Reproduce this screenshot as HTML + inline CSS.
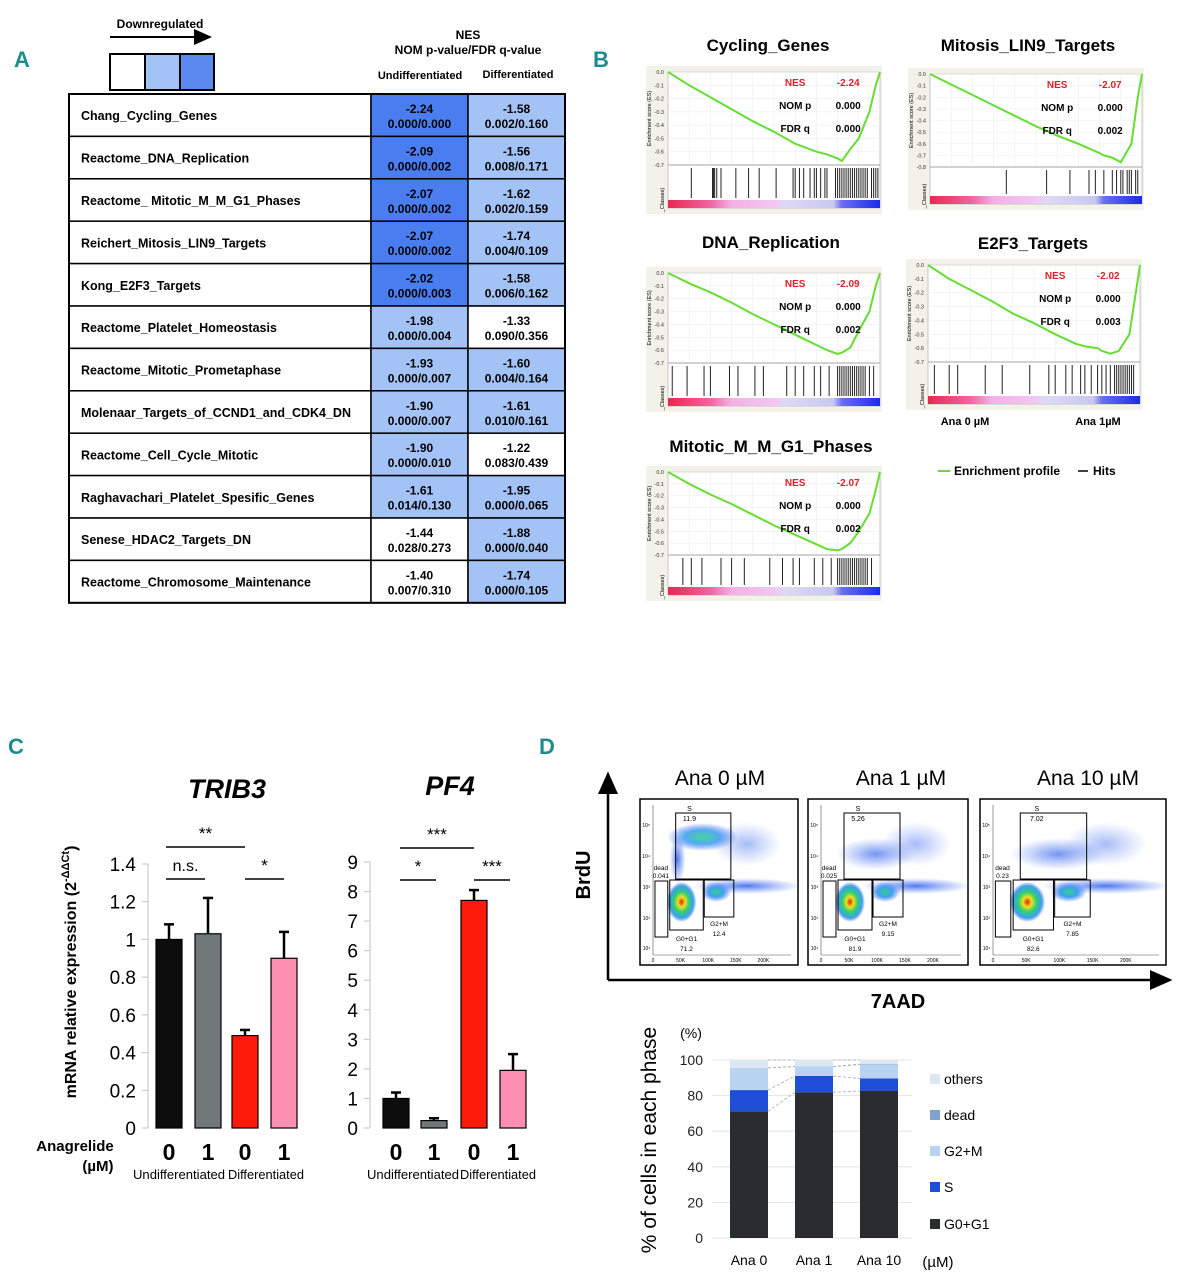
<!DOCTYPE html>
<html><head><meta charset="utf-8"><style>
body{margin:0;background:#fff}
svg{display:block;font-family:"Liberation Sans",Arial,sans-serif}
</style></head><body>
<svg id="fig" width="1187" height="1280" viewBox="0 0 1187 1280" xmlns="http://www.w3.org/2000/svg">
<defs>
<linearGradient id="rankbar" x1="0" x2="1" y1="0" y2="0">
<stop offset="0" stop-color="#e8284f"/><stop offset="0.2" stop-color="#f065a0"/><stop offset="0.3" stop-color="#f4b0e6"/><stop offset="0.5" stop-color="#f2c6f2"/><stop offset="0.55" stop-color="#ddd9f5"/><stop offset="0.78" stop-color="#c8c8f0"/><stop offset="0.82" stop-color="#6a6ef0"/><stop offset="1" stop-color="#1c2ce6"/>
</linearGradient>
<radialGradient id="blobG"><stop offset="0" stop-color="#e02010"/><stop offset="0.25" stop-color="#f0e020"/><stop offset="0.5" stop-color="#30d070"/><stop offset="0.8" stop-color="#3aa0f0"/><stop offset="1" stop-color="#4a70f0" stop-opacity="0"/></radialGradient>
<radialGradient id="blobC"><stop offset="0" stop-color="#30d090"/><stop offset="0.5" stop-color="#40a0f0"/><stop offset="1" stop-color="#5070f0" stop-opacity="0"/></radialGradient>
<radialGradient id="blobB"><stop offset="0" stop-color="#3a6af0" stop-opacity="0.9"/><stop offset="1" stop-color="#5a80f0" stop-opacity="0"/></radialGradient>
<marker id="arr" markerWidth="10" markerHeight="10" refX="8" refY="5" orient="auto"><path d="M0,1 L9,5 L0,9 z" fill="#000"/></marker>
</defs>

<text x="14" y="67" font-size="22" font-weight="bold" fill="#1e8c8c">A</text>
<text x="593" y="67" font-size="22" font-weight="bold" fill="#1e8c8c">B</text>
<text x="8" y="754" font-size="22" font-weight="bold" fill="#1e8c8c">C</text>
<text x="539" y="754" font-size="22" font-weight="bold" fill="#1e8c8c">D</text>

<g>
<text x="160" y="28" font-size="12" font-weight="bold" text-anchor="middle">Downregulated</text>
<line x1="110" y1="37" x2="210" y2="37" stroke="#000" stroke-width="2" marker-end="url(#arr)"/>
<rect x="110" y="54" width="35" height="36" fill="#fff" stroke="#000" stroke-width="2"/>
<rect x="145" y="54" width="35" height="36" fill="#a3c2f5" stroke="#000" stroke-width="2"/>
<rect x="180" y="54" width="34" height="36" fill="#5a8af0" stroke="#000" stroke-width="2"/>
</g>
<text x="468" y="39" font-size="12" font-weight="bold" text-anchor="middle">NES</text>
<text x="468" y="54" font-size="12" font-weight="bold" text-anchor="middle">NOM p-value/FDR q-value</text>
<text x="420" y="79" font-size="11" font-weight="bold" text-anchor="middle">Undifferentiated</text>
<text x="518" y="78" font-size="11" font-weight="bold" text-anchor="middle">Differentiated</text>
<g id="tableA"></g>

<g id="gseaB"></g>
<g>
<line x1="938" y1="471" x2="950" y2="471" stroke="#66dd33" stroke-width="2"/>
<text x="954" y="475" font-size="12" font-weight="bold">Enrichment profile</text>
<line x1="1078" y1="471" x2="1088" y2="471" stroke="#000" stroke-width="1.5"/>
<text x="1093" y="475" font-size="12" font-weight="bold">Hits</text>
</g>
<text x="965" y="425" font-size="11" font-weight="bold" text-anchor="middle">Ana 0 µM</text>
<text x="1098" y="425" font-size="11" font-weight="bold" text-anchor="middle">Ana 1µM</text>

<g id="panelC"></g>
<text transform="translate(76,972) rotate(-90)" font-size="16" font-weight="bold" text-anchor="middle">mRNA relative expression (2<tspan font-size="11" dy="-7">-ΔΔCt</tspan><tspan dy="7">)</tspan></text>
<text x="75" y="1151" font-size="15" font-weight="bold" text-anchor="middle">Anagrelide</text>
<text x="98" y="1171" font-size="15" font-weight="bold" text-anchor="middle">(µM)</text>

<g>
<line x1="608" y1="980" x2="608" y2="774" stroke="#000" stroke-width="2.5" marker-end="url(#arr)"/>
<line x1="608" y1="980" x2="1170" y2="980" stroke="#000" stroke-width="2.5" marker-end="url(#arr)"/>
<text transform="translate(590,875) rotate(-90)" font-size="20" font-weight="bold" text-anchor="middle">BrdU</text>
<text x="898" y="1008" font-size="20" font-weight="bold" text-anchor="middle">7AAD</text>
</g>
<g id="flowD"></g>
<g id="stackD"></g>
</svg>

<script>
var NS="http://www.w3.org/2000/svg";
function mk(tag,attrs,parent,txt){var e=document.createElementNS(NS,tag);for(var k in attrs)e.setAttribute(k,attrs[k]);if(txt!==undefined)e.textContent=txt;parent.appendChild(e);return e;}

/* ---------- Panel A table data ---------- */
var geneSets=["Chang_Cycling_Genes","Reactome_DNA_Replication","Reactome_ Mitotic_M_M_G1_Phases","Reichert_Mitosis_LIN9_Targets","Kong_E2F3_Targets","Reactome_Platelet_Homeostasis","Reactome_Mitotic_Prometaphase","Molenaar_Targets_of_CCND1_and_CDK4_DN","Reactome_Cell_Cycle_Mitotic","Raghavachari_Platelet_Spesific_Genes","Senese_HDAC2_Targets_DN","Reactome_Chromosome_Maintenance"];
var nesUndiff=["-2.24","-2.09","-2.07","-2.07","-2.02","-1.98","-1.93","-1.90","-1.90","-1.61","-1.44","-1.40"];
var pqUndiff=["0.000/0.000","0.000/0.002","0.000/0.002","0.000/0.002","0.000/0.003","0.000/0.004","0.000/0.007","0.000/0.007","0.000/0.010","0.014/0.130","0.028/0.273","0.007/0.310"];
var nesDiff=["-1.58","-1.56","-1.62","-1.74","-1.58","-1.33","-1.60","-1.61","-1.22","-1.95","-1.88","-1.74"];
var pqDiff=["0.002/0.160","0.008/0.171","0.002/0.159","0.004/0.109","0.006/0.162","0.090/0.356","0.004/0.164","0.010/0.161","0.083/0.439","0.000/0.065","0.000/0.040","0.000/0.105"];

function cellColor(nes,q){var n=parseFloat(nes),qq=parseFloat(q.split("/")[1]);if(qq>0.25)return "#ffffff";if(n<=-2.0)return "#4a7ef0";return "#a3c2f5";}
(function(){
var g=document.getElementById("tableA");
var top=94,rowH=42.4,x0=69,x1=371,x2=468,x3=565;
for(var i=0;i<geneSets.length;i++){
 var y=top+i*rowH;
 var r=mk("g",{},g);
 
 
 mk("rect",{x:x0,y:y,width:x1-x0,height:rowH,fill:"#fff",stroke:"#000","stroke-width":1.5},r);
 mk("rect",{x:x1,y:y,width:x2-x1,height:rowH,fill:cellColor(nesUndiff[i],pqUndiff[i]),stroke:"#000","stroke-width":1.5},r);
 mk("rect",{x:x2,y:y,width:x3-x2,height:rowH,fill:cellColor(nesDiff[i],pqDiff[i]),stroke:"#000","stroke-width":1.5},r);
 mk("text",{x:x0+12,y:y+rowH/2+5,"font-size":12.5,"font-weight":"bold"},r,geneSets[i]);
 mk("text",{x:(x1+x2)/2,y:y+19,"font-size":12,"font-weight":"bold","text-anchor":"middle"},r,nesUndiff[i]);
 mk("text",{x:(x1+x2)/2,y:y+34,"font-size":12,"font-weight":"bold","text-anchor":"middle"},r,pqUndiff[i]);
 mk("text",{x:(x2+x3)/2,y:y+19,"font-size":12,"font-weight":"bold","text-anchor":"middle"},r,nesDiff[i]);
 mk("text",{x:(x2+x3)/2,y:y+34,"font-size":12,"font-weight":"bold","text-anchor":"middle"},r,pqDiff[i]);
}
mk("rect",{x:x0,y:top,width:x3-x0,height:rowH*12,fill:"none",stroke:"#000","stroke-width":2},g);
})();

/* ---------- Panel B GSEA data ---------- */
var gseaTitles=["Cycling_Genes","Mitosis_LIN9_Targets","DNA_Replication","E2F3_Targets","Mitotic_M_M_G1_Phases"];
var gseaNES=["-2.24","-2.07","-2.09","-2.02","-2.07"];
var gseaNomP=["0.000","0.000","0.000","0.000","0.000"];
var gseaFdr=["0.000","0.002","0.002","0.003","0.002"];
var gseaYMin=[-0.7,-0.8,-0.7,-0.7,-0.7];
var esRanks=[0,0.1,0.2,0.3,0.4,0.5,0.6,0.7,0.75,0.8,0.82,0.86,0.9,0.95,0.98,1];
var esCurve1=[0,-0.1,-0.19,-0.28,-0.37,-0.45,-0.54,-0.6,-0.62,-0.65,-0.67,-0.58,-0.5,-0.3,-0.1,0];
var esCurve2=[0,-0.09,-0.18,-0.27,-0.36,-0.45,-0.53,-0.6,-0.64,-0.68,-0.7,-0.72,-0.76,-0.6,-0.2,0];
var esCurve3=[0,-0.08,-0.15,-0.23,-0.32,-0.4,-0.48,-0.56,-0.6,-0.63,-0.62,-0.58,-0.45,-0.3,-0.1,0];
var esCurve4=[0,-0.1,-0.18,-0.26,-0.35,-0.42,-0.5,-0.57,-0.59,-0.6,-0.62,-0.64,-0.62,-0.5,-0.2,0];
var esCurve5=[0,-0.1,-0.19,-0.27,-0.36,-0.45,-0.53,-0.61,-0.65,-0.66,-0.65,-0.6,-0.5,-0.35,-0.15,0];
var hits1=[0.11,0.21,0.215,0.22,0.23,0.25,0.32,0.38,0.43,0.51,0.59,0.6,0.62,0.64,0.67,0.69,0.7,0.72,0.74,0.75,0.79,0.8,0.81,0.82,0.83,0.84,0.85,0.86,0.87,0.88,0.89,0.9,0.91,0.92,0.93,0.94,0.96,0.97,0.98,0.99];
var hits2=[0.36,0.55,0.66,0.75,0.78,0.82,0.86,0.88,0.9,0.91,0.93,0.94,0.95,0.97,0.98];
var hits3=[0.02,0.09,0.17,0.2,0.29,0.33,0.41,0.45,0.56,0.6,0.64,0.69,0.72,0.76,0.8,0.81,0.82,0.83,0.84,0.85,0.86,0.87,0.88,0.89,0.9,0.91,0.92,0.93,0.95,0.97];
var hits4=[0.03,0.1,0.14,0.27,0.35,0.48,0.57,0.6,0.65,0.68,0.72,0.74,0.77,0.8,0.82,0.84,0.86,0.88,0.89,0.9,0.91,0.92,0.93,0.94,0.95,0.96,0.97];
var hits5=[0.07,0.11,0.16,0.25,0.3,0.36,0.48,0.54,0.59,0.62,0.69,0.73,0.77,0.8,0.81,0.82,0.83,0.84,0.85,0.86,0.87,0.88,0.89,0.9,0.91,0.92,0.93,0.94,0.96];

(function(){
var g=document.getElementById("gseaB");
var curves=[esCurve1,esCurve2,esCurve3,esCurve4,esCurve5];
var hits=[hits1,hits2,hits3,hits4,hits5];
var boxes=[
 {tx:768,ty:51,x:668,w:212,y:72,h:93,hh:35,bh:8},
 {tx:1028,ty:51,x:930,w:212,y:74,h:93,hh:29,bh:8},
 {tx:771,ty:248,x:668,w:212,y:273,h:90,hh:35,bh:8},
 {tx:1033,ty:249,x:928,w:212,y:265,h:97,hh:34,bh:8},
 {tx:771,ty:452,x:668,w:212,y:472,h:83,hh:32,bh:8}];
for(var p=0;p<5;p++){
 var b=boxes[p],c=curves[p],ymin=gseaYMin[p];
 var pg=mk("g",{},g);
 
 
 var t=mk("text",{x:b.tx,y:b.ty,"font-size":17,"font-weight":"bold","text-anchor":"middle"},pg,gseaTitles[p]);
 
 
 mk("rect",{x:b.x-22,y:b.y-6,width:b.w+24,height:b.h+b.hh+b.bh+12,fill:"#f2f2e8"},pg);
 mk("rect",{x:b.x,y:b.y,width:b.w,height:b.h+b.hh+b.bh,fill:"#fff",stroke:"#bbb","stroke-width":0.8},pg);
 var sx=function(r){return b.x+r*b.w;};
 var sy=function(v){return b.y+(v/ymin)*b.h;};
 var nt=Math.round(-ymin*10);
 for(var k=0;k<=nt;k++){var v=-k/10;mk("line",{x1:b.x,x2:b.x+b.w,y1:sy(v),y2:sy(v),stroke:"#eee","stroke-width":0.6},pg);
  mk("text",{x:b.x-4,y:sy(v)+2,"font-size":5.5,"text-anchor":"end",fill:"#333"},pg,v===0?"0.0":v.toFixed(1));}
 for(var k=1;k<10;k++)mk("line",{x1:b.x+k*b.w/10,x2:b.x+k*b.w/10,y1:b.y,y2:b.y+b.h,stroke:"#eee","stroke-width":0.6},pg);
 mk("line",{x1:b.x,x2:b.x+b.w,y1:b.y+b.h,y2:b.y+b.h,stroke:"#888","stroke-width":0.8},pg);
 mk("text",{transform:"translate("+(b.x-17)+","+(b.y+b.h/2)+") rotate(-90)","font-size":5.5,"text-anchor":"middle"},pg,"Enrichment score (ES)");
 mk("text",{transform:"translate("+(b.x-4)+","+(b.y+b.h+b.hh)+") rotate(-90)","font-size":5.5,"text-anchor":"middle"},pg,"_Classes)");
 var d="";for(var i=0;i<esRanks.length;i++)d+=(i?"L":"M")+sx(esRanks[i]).toFixed(1)+","+sy(c[i]).toFixed(1);
 var path=mk("path",{d:d,fill:"none",stroke:"#66dd33","stroke-width":2},pg);
 
 
 var h=hits[p];
 for(var i=0;i<h.length;i++){var hl=mk("line",{x1:sx(h[i]),x2:sx(h[i]),y1:b.y+b.h+3,y2:b.y+b.h+b.hh-2,stroke:"#222","stroke-width":1},pg);
  
  }
 mk("rect",{x:b.x,y:b.y+b.h+b.hh,width:b.w,height:b.bh,fill:"url(#rankbar)"},pg);
 var lx=b.x+b.w*0.6,vx=b.x+b.w*0.85;
 mk("text",{x:lx,y:b.y+14,"font-size":10,"font-weight":"bold",fill:"#e0202a","text-anchor":"middle"},pg,"NES");
 mk("text",{x:vx,y:b.y+14,"font-size":10,"font-weight":"bold",fill:"#e0202a","text-anchor":"middle"},pg,gseaNES[p]);
 mk("text",{x:lx,y:b.y+37,"font-size":10,"font-weight":"bold","text-anchor":"middle"},pg,"NOM p");
 mk("text",{x:vx,y:b.y+37,"font-size":10,"font-weight":"bold","text-anchor":"middle"},pg,gseaNomP[p]);
 mk("text",{x:lx,y:b.y+60,"font-size":10,"font-weight":"bold","text-anchor":"middle"},pg,"FDR q");
 mk("text",{x:vx,y:b.y+60,"font-size":10,"font-weight":"bold","text-anchor":"middle"},pg,gseaFdr[p]);
}
})();

/* ---------- Panel C data ---------- */
var qCats=["0","1","0","1"];
var trib3Vals=[1.0,1.03,0.49,0.9];
var trib3Err=[0.08,0.19,0.03,0.14];
var trib3Ticks=[0,0.2,0.4,0.6,0.8,1,1.2,1.4];
var pf4Vals=[1.0,0.25,7.7,1.95];
var pf4Err=[0.2,0.08,0.35,0.55];
var pf4Ticks=[0,1,2,3,4,5,6,7,8,9];
var barColors=["#0d0d0d","#707878","#ff1a0a","#ff8fb0"];

function qChart(opt){
 var g=document.getElementById("panelC");
 var cg=mk("g",{},g);
 
 
 var max=opt.ticks[opt.ticks.length-1];
 var y=function(v){return opt.y0-(v/max)*(opt.y0-opt.ytop);};
 var tt=mk("text",{x:opt.tx,y:opt.ty,"font-size":27,"font-weight":"bold","font-style":"italic","text-anchor":"middle"},cg,opt.title);
 
 
 mk("line",{x1:opt.ax,x2:opt.ax,y1:y(0),y2:y(max),stroke:"#ccc","stroke-width":1.2},cg);
 for(var i=0;i<opt.ticks.length;i++){var v=opt.ticks[i];
  mk("line",{x1:opt.ax-6,x2:opt.ax,y1:y(v),y2:y(v),stroke:"#ccc","stroke-width":1.2},cg);
  mk("text",{x:opt.ax-12,y:y(v)+7,"font-size":19,"text-anchor":"end"},cg,String(v));}
 for(var i=0;i<opt.vals.length;i++){
  var x=opt.bx[i];
  var top=y(opt.vals[i]+opt.err[i]);
  mk("line",{x1:x+opt.bw/2,x2:x+opt.bw/2,y1:y(opt.vals[i]),y2:top,stroke:"#000","stroke-width":2.5},cg);
  mk("line",{x1:x+opt.bw/2-5,x2:x+opt.bw/2+5,y1:top,y2:top,stroke:"#000","stroke-width":2.5},cg);
  var r=mk("rect",{x:x,y:y(opt.vals[i]),width:opt.bw,height:y(0)-y(opt.vals[i]),fill:barColors[i],stroke:"#000","stroke-width":1.2},cg);
  
  
  mk("text",{x:x+opt.bw/2,y:1160,"font-size":23,"font-weight":"bold","text-anchor":"middle"},cg,qCats[i]);
 }
 mk("text",{x:opt.lx1,y:1179,"font-size":12.5,"text-anchor":"middle","textLength":92,"lengthAdjust":"spacingAndGlyphs"},cg,"Undifferentiated");
 mk("text",{x:opt.lx2,y:1179,"font-size":12.5,"text-anchor":"middle","textLength":76,"lengthAdjust":"spacingAndGlyphs"},cg,"Differentiated");
 for(var i=0;i<opt.sig.length;i++){var s=opt.sig[i];
  mk("line",{x1:s[0],x2:s[1],y1:s[2],y2:s[2],stroke:"#000","stroke-width":1.5},cg);
  mk("text",{x:(s[0]+s[1])/2,y:s[2]-8,"font-size":s[3]==="n.s."?16:17,"text-anchor":"middle"},cg,s[3]);}
}
qChart({name:"trib3-chart",title:"TRIB3",tx:227,ty:798,ax:148,y0:1128,ytop:864,ticks:trib3Ticks,vals:trib3Vals,err:trib3Err,bx:[156,195,232,271],bw:26,lx1:179,lx2:266,
 sig:[[166,245,847,"**"],[166,205,879,"n.s."],[245,284,879,"*"]]});
qChart({name:"pf4-chart",title:"PF4",tx:450,ty:795,ax:370,y0:1128,ytop:862,ticks:pf4Ticks,vals:pf4Vals,err:pf4Err,bx:[383,421,461,500],bw:26,lx1:413,lx2:498,
 sig:[[400,474,848,"***"],[400,436,880,"*"],[474,510,880,"***"]]});

/* ---------- Panel D flow data ---------- */
var flowTitles=["Ana 0 µM","Ana 1 µM","Ana 10 µM"];
var flowS=["11.9","5.26","7.02"];
var flowDead=["0.041","0.025","0.23"];
var flowG1=["71.2","81.9","82.6"];
var flowG2=["12.4","9.15","7.85"];
(function(){
var g=document.getElementById("flowD");
var xs=[640,808,980],ws=[158,160,186];
var tx=[720,901,1088];
for(var p=0;p<3;p++){
 var x=xs[p],w=ws[p],y=799,h=166;
 var pg=mk("g",{},g);
 
 
 mk("text",{x:tx[p],y:785,"font-size":21,"text-anchor":"middle"},pg,flowTitles[p]);
 mk("rect",{x:x,y:y,width:w,height:h,fill:"#fff",stroke:"#000","stroke-width":1.5},pg);
 var ix=x+13,iw=w-20;
 var decY=[948,918,887,856,825];
 var dl=["10¹","10²","10³","10⁴","10⁵"];
 for(var i=0;i<5;i++){mk("text",{x:x+10,y:decY[i]+2,"font-size":5,"text-anchor":"end"},pg,dl[i]);}
 var xl=["0","50K","100K","150K","200K"];
 for(var i=0;i<5;i++)mk("text",{x:ix+i*iw*0.2,y:y+h-3,"font-size":5,"text-anchor":"middle"},pg,xl[i]);
 mk("line",{x1:ix,x2:ix+iw,y1:y+h-10,y2:y+h-10,stroke:"#555","stroke-width":0.6},pg);
 mk("line",{x1:ix,x2:ix,y1:y+6,y2:y+h-10,stroke:"#555","stroke-width":0.6},pg);
 var sc=iw/140;
 if(p===0){mk("ellipse",{cx:ix+50*sc,cy:y+38,rx:36*sc,ry:14,fill:"url(#blobC)",opacity:0.9},pg);
  mk("ellipse",{cx:ix+25*sc,cy:y+60,rx:8*sc,ry:25,fill:"url(#blobB)"},pg);}
 else mk("ellipse",{cx:ix+55*sc,cy:y+55,rx:40*sc,ry:16,fill:"url(#blobB)",opacity:0.8},pg);
 mk("ellipse",{cx:ix+95*sc,cy:y+45,rx:35*sc,ry:22,fill:"url(#blobB)",opacity:0.5},pg);
 mk("ellipse",{cx:ix+95*sc,cy:y+87,rx:55*sc,ry:8,fill:"url(#blobB)"},pg);
 mk("ellipse",{cx:ix+29*sc,cy:y+103,rx:15*sc,ry:20,fill:"url(#blobG)"},pg);
 mk("ellipse",{cx:ix+64*sc,cy:y+93,rx:15*sc,ry:10,fill:"url(#blobC)"},pg);
 mk("rect",{x:ix+23*sc,y:y+14,width:56*sc,height:66,fill:"none",stroke:"#000","stroke-width":1},pg);
 mk("rect",{x:ix+2*sc,y:y+82,width:13*sc,height:56,fill:"none",stroke:"#000","stroke-width":1},pg);
 mk("rect",{x:ix+17*sc,y:y+81,width:34*sc,height:50,fill:"none",stroke:"#000","stroke-width":1},pg);
 mk("rect",{x:ix+52*sc,y:y+81,width:30*sc,height:37,fill:"none",stroke:"#000","stroke-width":1},pg);
 mk("text",{x:ix+37*sc,y:y+12,"font-size":7,"text-anchor":"middle"},pg,"S");
 mk("text",{x:ix+37*sc,y:y+22,"font-size":7,"text-anchor":"middle"},pg,flowS[p]);
 mk("text",{x:ix+8*sc,y:y+71,"font-size":6.5,"text-anchor":"middle"},pg,"dead");
 mk("text",{x:ix+8*sc,y:y+79,"font-size":6.5,"text-anchor":"middle"},pg,flowDead[p]);
 mk("text",{x:ix+34*sc,y:y+142,"font-size":6.5,"text-anchor":"middle"},pg,"G0+G1");
 mk("text",{x:ix+34*sc,y:y+152,"font-size":6.5,"text-anchor":"middle"},pg,flowG1[p]);
 mk("text",{x:ix+67*sc,y:y+127,"font-size":6.5,"text-anchor":"middle"},pg,"G2+M");
 mk("text",{x:ix+67*sc,y:y+137,"font-size":6.5,"text-anchor":"middle"},pg,flowG2[p]);
}
})();

/* ---------- Panel D stacked bar data ---------- */
var stackCats=["Ana 0","Ana 1","Ana 10"];
var stackG0G1=[71.2,81.9,82.6];
var stackS=[11.9,9.15,7.02];
var stackG2M=[12.4,5.26,7.85];
var stackDead=[0.04,0.03,0.23];
var stackOthers=[4.46,3.66,2.3];
var stackTicks=[0,20,40,60,80,100];
var stackNames=["G0+G1","S","G2+M","dead","others"];
var stackColors=["#2a2d2f","#1f4fd6","#b9d4f3","#7fa3c9","#dde6f3"];
(function(){
var g=document.getElementById("stackD");
var y0=1238,ytop=1060,left=712,right=912;
var y=function(v){return y0-v/100*(y0-ytop);};
var bx=[730,795,860],bw=38;
for(var i=0;i<stackTicks.length;i++){var v=stackTicks[i];
 mk("line",{x1:left,x2:right,y1:y(v),y2:y(v),stroke:"#ddd","stroke-width":0.8},g);
 mk("text",{x:703,y:y(v)+5,"font-size":14,"text-anchor":"end",fill:"#222"},g,String(v));}
mk("text",{x:691,y:1038,"font-size":14,"text-anchor":"middle"},g,"(%)");
mk("text",{transform:"translate(656,1140) rotate(-90)","font-size":21,"text-anchor":"middle"},g,"% of cells in each phase");
var series=[stackG0G1,stackS,stackG2M,stackDead,stackOthers];
var cum=[[0,0,0]];
for(var s=0;s<series.length;s++){var prev=cum[s],next=[];
 for(var i=0;i<3;i++){
  var base=prev[i],v=series[s][i];next.push(base+v);
  var r=mk("rect",{x:bx[i],y:y(base+v),width:bw,height:y(base)-y(base+v),fill:stackColors[s]},g);
  
  
 }
 cum.push(next);
}
for(var s=1;s<cum.length;s++)for(var i=0;i<2;i++)
 mk("line",{x1:bx[i]+bw,x2:bx[i+1],y1:y(cum[s][i]),y2:y(cum[s][i+1]),stroke:"#aaa","stroke-width":0.8,"stroke-dasharray":"3,2"},g);
for(var i=0;i<3;i++)mk("text",{x:bx[i]+bw/2,y:1265,"font-size":14,"text-anchor":"middle"},g,stackCats[i]);
mk("text",{x:938,y:1267,"font-size":15,"text-anchor":"middle"},g,"(µM)");
var ly=[1229,1192,1156,1120,1084];
for(var s=0;s<5;s++){
 var le=mk("g",{},g);
 
 
 mk("rect",{x:930,y:ly[s]-10,width:10,height:10,fill:stackColors[s]},le);
 mk("text",{x:944,y:ly[s],"font-size":14},le,stackNames[s]);
}
})();
</script>
</body></html>
